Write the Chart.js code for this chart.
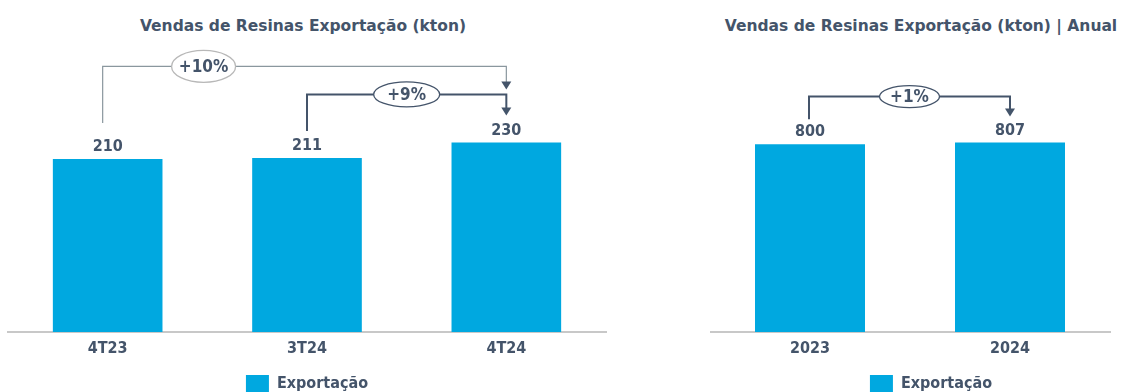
<!DOCTYPE html>
<html>
<head>
<meta charset="utf-8">
<script src="https://cdn.jsdelivr.net/npm/chart.js@4.4.1/dist/chart.umd.min.js"></script>
<style>
html, body { margin: 0; padding: 0; background: #fff; overflow: hidden; width: 1123px; height: 392px; }
.title { position: absolute; top: 0; height: 52px; font: bold 15.5px/52px "DejaVu Sans", sans-serif; color: #44546a; text-align: center; white-space: nowrap; }
#wrapA { position: absolute; left: 0; top: 0; width: 615px; height: 403px; }
#wrapB { position: absolute; left: 710px; top: 0; width: 442px; height: 403px; }
</style>
</head>
<body>
<div class="title" style="left:0;width:606px;">Vendas de Resinas Exportação (kton)</div>
<div class="title" style="left:720px;width:402px;">Vendas de Resinas Exportação (kton) | Anual</div>
<div id="wrapA"><canvas id="chartA" width="615" height="403"></canvas></div>
<div id="wrapB"><canvas id="chartB" width="442" height="403"></canvas></div>
<script>
// dados
var seriesName = 'Exportação';
var quarterLabels = ['4T23', '3T24', '4T24'];
var quarterValues = [210, 211, 230];
var quarterDeltaLabels = ['+10%', '+9%'];
var quarterDeltaFrom = [0, 1];
var quarterDeltaTo = [2, 2];

var yearLabels = ['2023', '2024'];
var yearValues = [800, 807];
var yearDeltaLabels = ['+1%'];
var yearDeltaFrom = [0];
var yearDeltaTo = [1];

var FONT = '"DejaVu Sans Condensed", "DejaVu Sans", sans-serif';
var TEXT = '#44546a';
var BAR = '#00a8e0';

Chart.defaults.font.family = FONT;
Chart.defaults.color = TEXT;

// rotulos de valor acima das barras
var valueLabels = {
    id: 'valueLabels',
    afterDatasetsDraw: function(chart) {
        var ctx = chart.ctx;
        var meta = chart.getDatasetMeta(0);
        ctx.save();
        ctx.font = 'bold 16px ' + FONT;
        ctx.fillStyle = TEXT;
        ctx.textAlign = 'center';
        ctx.textBaseline = 'middle';
        meta.data.forEach(function(bar, i) {
            ctx.fillText(chart.data.datasets[0].data[i], bar.x, bar.y - 12);
        });
        ctx.restore();
    }
};

// setas de variacao
var brackets = {
    id: 'brackets',
    afterDatasetsDraw: function(chart, args, opts) {
        var ctx = chart.ctx;
        var meta = chart.getDatasetMeta(0);
        (opts.items || []).forEach(function(it) {
            var a = meta.data[it.from], b = meta.data[it.to];
            var x0 = a.x + (it.dx0 || 0), x1 = b.x;
            var y0 = a.y - it.startGap;
            var yl = Math.min(a.y, b.y) - it.rise;
            var tip = yl + it.drop;
            ctx.save();
            ctx.strokeStyle = it.line;
            ctx.lineWidth = it.lineWidth;
            ctx.beginPath();
            ctx.moveTo(x0, y0);
            ctx.lineTo(x0, yl);
            ctx.lineTo(x1, yl);
            ctx.lineTo(x1, tip - 7);
            ctx.stroke();
            ctx.fillStyle = it.head;
            ctx.beginPath();
            ctx.moveTo(x1 - 5, tip - 8);
            ctx.lineTo(x1 + 5, tip - 8);
            ctx.lineTo(x1, tip);
            ctx.closePath();
            ctx.fill();
            var cx = x0 + (x1 - x0) * it.pos;
            ctx.beginPath();
            ctx.ellipse(cx, yl, it.rx, it.ry, 0, 0, Math.PI * 2);
            ctx.fillStyle = '#fff';
            ctx.fill();
            ctx.strokeStyle = it.ring;
            ctx.lineWidth = 1.3;
            ctx.stroke();
            ctx.font = 'bold 17px ' + FONT;
            ctx.fillStyle = TEXT;
            ctx.textAlign = 'center';
            ctx.textBaseline = 'middle';
            ctx.fillText(it.label, cx, yl + 1);
            ctx.restore();
        });
    }
};

function makeChart(id, labels, values, yMax, items, yRightWidth, padLeft, padRight) {
    var config = {
        type: 'bar',
        data: {
            labels: labels,
            datasets: [{
                label: seriesName,
                data: values,
                backgroundColor: BAR,
                borderWidth: 0,
                barPercentage: 0.55,
                categoryPercentage: 1
            }]
        },
        options: {
            responsive: false,
            animation: false,
            devicePixelRatio: 1,
            layout: { padding: { left: padLeft, right: padRight, top: 55, bottom: 0 } },
            scales: {
                x: {
                    grid: { display: false, drawTicks: false },
                    border: { display: true, color: '#c8c8c8', width: 2 },
                    ticks: { padding: 7, color: TEXT, font: { size: 16, weight: 'bold' } },
                    afterFit: function(s) { s.height = 33; }
                },
                y: {
                    display: yRightWidth > 0,
                    position: 'right',
                    min: 0,
                    max: yMax,
                    grid: { display: false },
                    border: { display: false },
                    ticks: { display: false },
                    afterFit: function(s) { s.width = yRightWidth; }
                }
            },
            plugins: {
                title: { display: false },
                tooltip: { enabled: false },
                legend: {
                    position: 'bottom',
                    labels: {
                        boxWidth: 23,
                        boxHeight: 18,
                        padding: 10,
                        color: TEXT,
                        font: { size: 16, weight: 'bold' }
                    }
                },
                brackets: { items: items }
            }
        },
        plugins: [valueLabels, brackets]
    };
    var ctx = document.getElementById(id).getContext('2d');
    return new Chart(ctx, config);
}

var quarterItems = [
    { label: quarterDeltaLabels[0], from: quarterDeltaFrom[0], to: quarterDeltaTo[0], dx0: -5, startGap: 36, rise: 76, drop: 23, pos: 0.25, rx: 32, ry: 16, line: '#8a979e', lineWidth: 1.2, head: '#44546a', ring: '#b8b8b8' },
    { label: quarterDeltaLabels[1], from: quarterDeltaFrom[1], to: quarterDeltaTo[1], dx0: 0, startGap: 27, rise: 48, drop: 21, pos: 0.5, rx: 33, ry: 12.5, line: '#44546a', lineWidth: 2, head: '#44546a', ring: '#44546a' }
];
var yearItems = [
    { label: yearDeltaLabels[0], from: yearDeltaFrom[0], to: yearDeltaTo[0], dx0: -1, startGap: 25, rise: 46, drop: 20, pos: 0.5, rx: 30, ry: 11, line: '#44546a', lineWidth: 2, head: '#44546a', ring: '#44546a' }
];

window.chartA = makeChart('chartA', quarterLabels, quarterValues, 336, quarterItems, 0, 8, 9);
window.chartB = makeChart('chartB', yearLabels, yearValues, 1180, yearItems, 42, 0, 0);
</script>
</body>
</html>
